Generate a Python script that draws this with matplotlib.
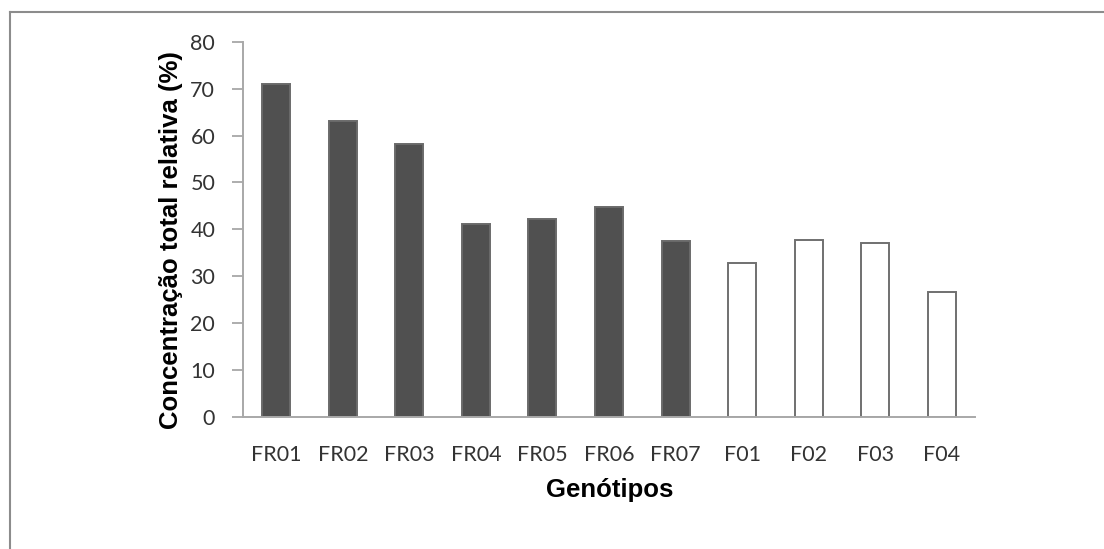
import matplotlib
matplotlib.use("Agg")
import matplotlib.pyplot as plt
from matplotlib.lines import Line2D

# -------------------------
# Data
# -------------------------
genotypes = ["FR01", "FR02", "FR03", "FR04", "FR05", "FR06", "FR07",
             "F01", "F02", "F03", "F04"]
concentration = [71.0, 63.0, 58.2, 41.1, 42.2, 44.7, 37.5,
                 32.9, 37.8, 37.1, 26.7]
groups = ["FR", "FR", "FR", "FR", "FR", "FR", "FR", "F", "F", "F", "F"]
y_ticks = [0, 10, 20, 30, 40, 50, 60, 70, 80]

W, H = 1104, 549
fig = plt.figure(figsize=(W / 100, H / 100), dpi=100)
ax = fig.add_axes([243 / W, 1 - 417 / H, (975 - 243) / W, (417 - 41.7) / H])

face = ["#505050" if g == "FR" else "white" for g in groups]
edge = ["#6a6a6a" if g == "FR" else "#707070" for g in groups]
x = range(len(genotypes))
ax.bar(x, concentration, width=0.42, color=face, edgecolor=edge, linewidth=1.4)

ax.set_xlim(-0.5, len(genotypes) - 0.5)
ax.set_ylim(0, 80)
ax.set_yticks(y_ticks)
ax.set_xticks(list(x))
ax.set_xticklabels(genotypes)

for lab in ax.get_xticklabels() + ax.get_yticklabels():
    lab.set_fontfamily("Lato")
    lab.set_fontsize(15.5)
    lab.set_color("#333333")

ax.tick_params(axis="x", length=0, pad=20)
ax.tick_params(axis="y", length=8, width=1.2, color="#a0a0a0", pad=12)

for side in ["top", "right"]:
    ax.spines[side].set_visible(False)
for side in ["left", "bottom"]:
    ax.spines[side].set_color("#a8a8a8")
    ax.spines[side].set_linewidth(1.4)

label_font = {"family": "Liberation Sans", "weight": "bold", "size": 18.5}
ax.set_ylabel("Concentração total relativa (%)", **label_font)
ax.set_xlabel("Genótipos", **label_font)
ax.yaxis.set_label_coords(-(243 - 183) / (975 - 243), (417 - 240) / (417 - 41.7))
ax.xaxis.set_label_coords((610 - 243) / (975 - 243), -(478 - 417) / (417 - 41.7))

# Outer frame lines (top and left)
fig.add_artist(Line2D([10 / W, 1.0], [1 - 12 / H, 1 - 12 / H],
                      transform=fig.transFigure, color="#8c8c8c", linewidth=1.5))
fig.add_artist(Line2D([10 / W, 10 / W], [0.0, 1 - 12 / H],
                      transform=fig.transFigure, color="#8c8c8c", linewidth=1.5))

fig.savefig("out.png", dpi=100, facecolor="white")
